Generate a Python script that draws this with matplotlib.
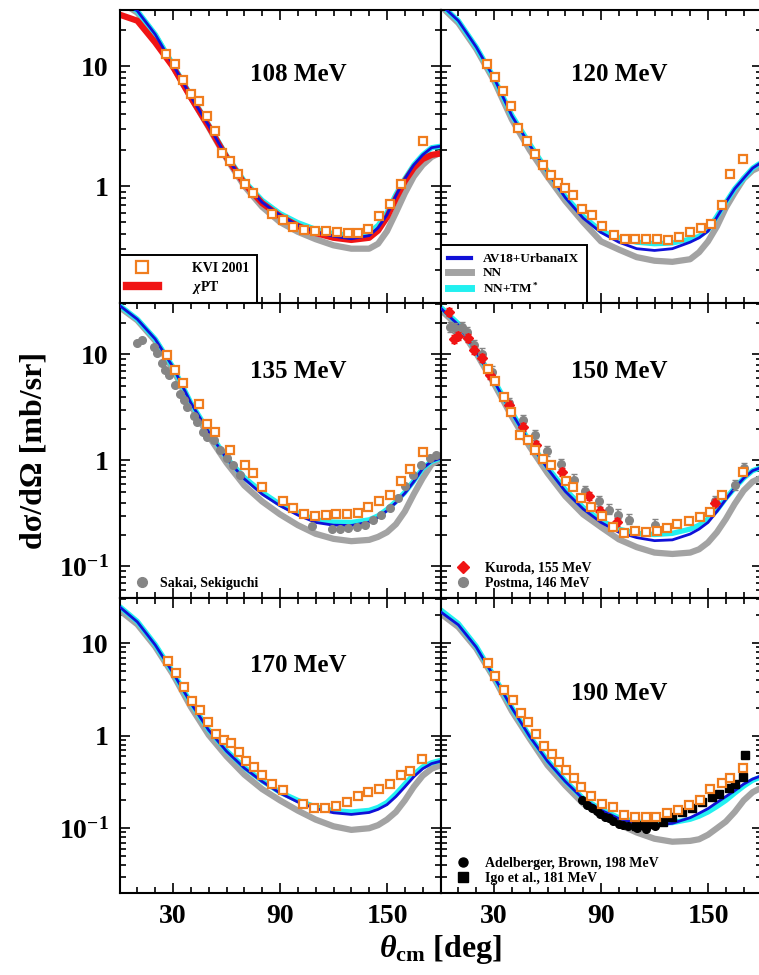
import matplotlib
matplotlib.use("Agg")
import matplotlib.pyplot as plt
from matplotlib.lines import Line2D
from matplotlib.ticker import FixedLocator, MultipleLocator, LogLocator, NullFormatter, FuncFormatter

plt.rcParams['font.family'] = ['Liberation Serif', 'DejaVu Serif']
plt.rcParams['font.weight'] = 'bold'
plt.rcParams['mathtext.fontset'] = 'custom'
plt.rcParams['mathtext.rm'] = 'Liberation Serif:bold'
plt.rcParams['mathtext.bf'] = 'Liberation Serif:bold'
plt.rcParams['mathtext.it'] = 'Liberation Serif:italic:bold'

# angle grid of the theory curves (deg)
theta = [0, 10, 20, 30, 40, 50, 60, 70, 80, 90, 100, 110, 120, 130, 140,
         145, 150, 155, 160, 165, 170, 175, 180]

# 108 MeV
av18_108 = [36, 29, 18.5, 10.3, 5.6, 3.2, 1.76, 1.06, 0.73, 0.57, 0.47, 0.413, 0.381, 0.363, 0.386,
            0.448, 0.575, 0.83, 1.15, 1.5, 1.82, 2.09, 2.15]
nn_108 = [35, 28, 18, 10, 5.5, 3.1, 1.7, 1.0, 0.67, 0.5, 0.415, 0.36, 0.32, 0.30, 0.30,
          0.33, 0.42, 0.6, 0.87, 1.2, 1.5, 1.75, 1.9]
tm_108 = [36, 29, 18.5, 10.3, 5.7, 3.25, 1.8, 1.1, 0.76, 0.59, 0.495, 0.435, 0.40, 0.39, 0.41,
          0.47, 0.6, 0.85, 1.15, 1.5, 1.82, 2.09, 2.15]
chpt_108 = [27, 24, 15.8, 9.9, 5.5, 3.15, 1.74, 1.05, 0.72, 0.56, 0.465, 0.405, 0.37, 0.355, 0.37,
            0.425, 0.55, 0.79, 1.1, 1.42, 1.68, 1.82, 1.87]

# 120 MeV
av18_120 = [33, 24, 14.5, 8.0, 3.86, 2.2, 1.31, 0.8, 0.54, 0.41, 0.34, 0.30, 0.29, 0.30, 0.34,
            0.37, 0.42, 0.55, 0.73, 0.95, 1.16, 1.41, 1.58]
nn_120 = [32, 23, 14, 7.6, 3.6, 2.0, 1.2, 0.75, 0.5, 0.345, 0.295, 0.255, 0.238, 0.233, 0.245,
          0.28, 0.345, 0.46, 0.66, 0.88, 1.15, 1.35, 1.46]
tm_120 = [33, 24, 14.5, 8.0, 3.9, 2.25, 1.33, 0.82, 0.56, 0.42, 0.37, 0.34, 0.33, 0.335, 0.36,
          0.38, 0.43, 0.56, 0.73, 0.95, 1.16, 1.41, 1.58]

# 135 MeV
av18_135 = [29, 21.5, 14, 7.6, 3.5, 1.85, 1.04, 0.67, 0.48, 0.374, 0.305, 0.26, 0.245, 0.243, 0.262,
            0.29, 0.335, 0.4, 0.49, 0.63, 0.84, 0.98, 1.05]
nn_135 = [28, 21, 13.5, 7.3, 3.3, 1.7, 0.95, 0.58, 0.41, 0.31, 0.245, 0.203, 0.182, 0.173, 0.178,
          0.19, 0.21, 0.25, 0.33, 0.48, 0.68, 0.92, 1.02]
tm_135 = [29, 21.5, 14, 7.6, 3.5, 1.87, 1.06, 0.69, 0.5, 0.385, 0.32, 0.275, 0.262, 0.26, 0.275,
          0.3, 0.345, 0.41, 0.5, 0.64, 0.84, 0.98, 1.05]

# 150 MeV
av18_150 = [27.5, 19, 10.6, 5.6, 2.8, 1.47, 0.84, 0.51, 0.348, 0.26, 0.21, 0.187, 0.175, 0.178, 0.202,
            0.225, 0.26, 0.33, 0.43, 0.55, 0.68, 0.8, 0.86]
nn_150 = [26.5, 18.5, 10.3, 5.3, 2.6, 1.35, 0.76, 0.46, 0.31, 0.235, 0.18, 0.152, 0.135, 0.131, 0.135,
          0.145, 0.168, 0.21, 0.28, 0.39, 0.52, 0.63, 0.69]
tm_150 = [28, 19.5, 10.8, 5.7, 2.85, 1.5, 0.86, 0.53, 0.36, 0.27, 0.225, 0.205, 0.2, 0.205, 0.225,
          0.245, 0.28, 0.34, 0.44, 0.55, 0.68, 0.8, 0.86]

# 170 MeV
av18_170 = [24.8, 17, 9.6, 4.8, 2.25, 1.15, 0.68, 0.447, 0.32, 0.24, 0.192, 0.163, 0.147, 0.141, 0.148,
            0.16, 0.18, 0.22, 0.28, 0.36, 0.44, 0.5, 0.53]
nn_170 = [22.8, 16, 9.2, 4.6, 2.05, 1.02, 0.6, 0.38, 0.265, 0.2, 0.155, 0.124, 0.105, 0.096, 0.1,
          0.108, 0.124, 0.15, 0.2, 0.28, 0.37, 0.44, 0.48]
tm_170 = [25, 17.2, 9.7, 4.85, 2.27, 1.16, 0.69, 0.455, 0.325, 0.245, 0.2, 0.17, 0.155, 0.15, 0.156,
          0.168, 0.19, 0.235, 0.3, 0.38, 0.46, 0.51, 0.54]

# 190 MeV
av18_190 = [21.9, 15.8, 9.1, 4.35, 2.0, 0.98, 0.53, 0.32, 0.207, 0.157, 0.127, 0.113, 0.108, 0.113, 0.13,
            0.145, 0.163, 0.19, 0.22, 0.255, 0.3, 0.34, 0.37]
nn_190 = [21, 15, 8.8, 4.2, 1.85, 0.93, 0.48, 0.29, 0.185, 0.138, 0.11, 0.09, 0.077, 0.0715, 0.073,
          0.076, 0.085, 0.1, 0.118, 0.15, 0.2, 0.245, 0.275]
tm_190 = [23, 16.3, 9.3, 4.4, 2.02, 0.99, 0.54, 0.325, 0.21, 0.16, 0.13, 0.117, 0.113, 0.115, 0.125,
          0.135, 0.15, 0.172, 0.2, 0.24, 0.285, 0.33, 0.36]

# KVI 2001 data
kvi108_th = [26.3, 30.9, 35.7, 40.1, 44.6, 49.0, 53.3, 57.6, 61.7, 66.2, 70.3, 74.8, 85.7, 91.5, 97.5,
             103.4, 109.6, 115.8, 121.7, 127.9, 133.8, 139.6, 145.6, 151.9, 158.1, 170.2]
kvi108 = [12.7, 10.5, 7.75, 5.89, 5.11, 3.83, 2.89, 1.90, 1.61, 1.26, 1.05, 0.87, 0.58, 0.52, 0.455,
          0.427, 0.419, 0.419, 0.415, 0.407, 0.407, 0.44, 0.56, 0.71, 1.04, 2.37]
kvi120_th = [26.1, 30.5, 34.9, 39.4, 43.7, 48.4, 52.9, 57.4, 61.7, 65.8, 69.9, 74.2, 79.1, 85.0, 90.8,
             97.2, 103.4, 108.9, 115.1, 121.5, 127.3, 133.5, 139.8, 145.8, 151.6, 157.8, 162.3, 169.5]
kvi120 = [10.5, 8.2, 6.2, 4.67, 3.05, 2.39, 1.86, 1.49, 1.24, 1.07, 0.96, 0.85, 0.64, 0.57, 0.46,
          0.39, 0.36, 0.36, 0.36, 0.36, 0.354, 0.378, 0.417, 0.447, 0.48, 0.70, 1.26, 1.67]
kvi135_th = [26.8, 31.3, 35.8, 44.7, 49.2, 53.7, 62.1, 70.5, 74.8, 79.8, 91.7, 97.3, 103.5, 109.6, 115.6,
             121.5, 127.5, 133.5, 139.6, 145.6, 151.9, 157.9, 163.1, 170.2]
kvi135 = [9.86, 7.18, 5.33, 3.41, 2.20, 1.86, 1.25, 0.90, 0.76, 0.565, 0.415, 0.356, 0.31, 0.297, 0.304,
          0.313, 0.315, 0.322, 0.367, 0.411, 0.475, 0.635, 0.835, 1.19]
kvi150_th = [26.4, 30.8, 35.5, 39.6, 44.3, 48.8, 52.9, 57.6, 61.9, 70.1, 74.4, 78.9, 84.5, 90.5, 96.8,
             102.8, 109.0, 115.2, 121.3, 126.9, 132.7, 139.1, 145.3, 151.2, 157.6, 169.7]
kvi150 = [7.28, 5.65, 4.0, 2.85, 1.74, 1.55, 1.25, 1.03, 0.90, 0.635, 0.557, 0.443, 0.367, 0.297, 0.236,
          0.207, 0.218, 0.212, 0.215, 0.231, 0.252, 0.271, 0.295, 0.329, 0.472, 0.776]
kvi170_th = [27.0, 31.5, 36.0, 40.6, 44.9, 49.4, 53.9, 58.7, 62.6, 66.9, 71.0, 75.3, 79.8, 85.6, 91.5,
             103.1, 109.2, 115.2, 121.4, 127.3, 133.5, 139.5, 145.4, 151.6, 157.7, 163.1, 169.8]
kvi170 = [6.41, 4.8, 3.33, 2.37, 1.88, 1.42, 1.04, 0.91, 0.83, 0.66, 0.537, 0.462, 0.376, 0.303, 0.259,
          0.181, 0.167, 0.167, 0.172, 0.19, 0.221, 0.244, 0.263, 0.30, 0.376, 0.418, 0.56]
kvi190_th = [26.5, 30.8, 35.5, 40.4, 44.9, 49.2, 53.3, 58.0, 62.3, 66.4, 70.5, 74.8, 78.9, 84.5, 90.5,
             96.5, 102.8, 108.8, 115.0, 121.1, 126.9, 132.9, 139.1, 145.3, 151.4, 157.6, 162.6, 169.7]
kvi190 = [6.05, 4.42, 3.12, 2.41, 1.74, 1.42, 1.04, 0.78, 0.634, 0.524, 0.426, 0.346, 0.276, 0.225, 0.181,
          0.168, 0.138, 0.131, 0.131, 0.131, 0.146, 0.156, 0.178, 0.2, 0.265, 0.308, 0.352, 0.447]

# other data sets
sakai_th = [9.9, 12.7, 19.2, 21.1, 23.9, 25.7, 27.6, 31.3, 34.1, 36, 37.9, 41.6, 43.5, 46.6, 49.1,
            52.8, 56.5, 60.2, 63.9, 67.7, 107.8, 118.9, 123.6, 128.3, 132.9, 137.6, 142.2, 146.9,
            151.6, 156.2, 160, 164.6, 169.3, 173.9, 177.7]
sakai = [12.9, 13.7, 11.8, 10.3, 8.3, 7.1, 6.4, 5.2, 4.2, 3.7, 3.2, 2.6, 2.33, 1.87, 1.68,
         1.56, 1.26, 1.05, 0.91, 0.73, 0.24, 0.223, 0.223, 0.228, 0.234, 0.248, 0.277, 0.308,
         0.356, 0.443, 0.569, 0.733, 0.91, 1.05, 1.13]
kuroda_th = [4.7, 7.5, 10, 15.5, 18.7, 23, 28, 38.3, 46.2, 53.3, 67.9, 83.2, 89.7, 99, 154.2]
kuroda = [25, 14, 15, 14.3, 11, 9.2, 6.4, 3.34, 2.06, 1.4, 0.78, 0.46, 0.33, 0.26, 0.4]
postma_th = [5.6, 8.4, 12.2, 14.9, 18.7, 23.4, 29, 38.3, 46.2, 52.9, 59.8, 67.7, 74.8, 81.3, 88.8,
             94.4, 99.6, 105.6, 120.2, 153.9, 165.1, 170.1]
postma = [18.2, 17.6, 18, 16.3, 12.2, 10.2, 6.9, 3.46, 2.4, 1.74, 1.22, 0.92, 0.66, 0.51, 0.41,
          0.344, 0.308, 0.277, 0.248, 0.41, 0.59, 0.85]
adel_th = [79.5, 82, 84.7, 87.5, 89.7, 92, 94.4, 97, 100, 102.5, 105, 110, 115, 120.5]
adel = [0.2, 0.18, 0.166, 0.152, 0.141, 0.133, 0.128, 0.12, 0.112, 0.108, 0.105, 0.1, 0.097, 0.105]
igo_th = [109.5, 114, 119, 124.5, 130, 135.5, 141, 146.5, 152, 156, 161.5, 165, 169.5, 170.5]
igo = [0.105, 0.108, 0.112, 0.117, 0.133, 0.15, 0.165, 0.19, 0.215, 0.235, 0.27, 0.3, 0.36, 0.62]

energies = ['108 MeV', '120 MeV', '135 MeV', '150 MeV', '170 MeV', '190 MeV']
av18_all = [av18_108, av18_120, av18_135, av18_150, av18_170, av18_190]
nn_all = [nn_108, nn_120, nn_135, nn_150, nn_170, nn_190]
tm_all = [tm_108, tm_120, tm_135, tm_150, tm_170, tm_190]
kvi_th_all = [kvi108_th, kvi120_th, kvi135_th, kvi150_th, kvi170_th, kvi190_th]
kvi_all = [kvi108, kvi120, kvi135, kvi150, kvi170, kvi190]
row_ylim = [(0.105, 29.5), (0.05, 30.4), (0.0198, 30.6)]
title_y = [0.78, 0.78, 0.768, 0.768, 0.773, 0.678]

BLUE = '#1010d8'
GRAY = '#a3a3a3'
CYAN = '#22f0f0'
RED = '#f01414'
ORANGE = '#f07d1e'

fig = plt.figure(figsize=(7.59, 9.75), dpi=100)
W, H = 759.0, 975.0
col_x = [119.5, 440.5]
row_top = [10.0, 303.3, 598.3]
row_bot = [303.3, 598.3, 893.3]
pw = 321.0


def ylabel_fmt(v, pos):
    if abs(v - 10) < 1e-6:
        return '10'
    if abs(v - 1) < 1e-6:
        return '1'
    if abs(v - 0.1) < 1e-6:
        return '$10^{-1}$'
    return ''


axes = []
for i in range(6):
    r, c = divmod(i, 2)
    ax = fig.add_axes([col_x[c] / W, 1 - row_bot[r] / H, pw / W, (row_bot[r] - row_top[r]) / H])
    axes.append(ax)
    ax.set_yscale('log')
    ax.set_xlim(0, 180)
    ax.set_ylim(*row_ylim[r])

    ax.plot(theta, nn_all[i], color=GRAY, lw=4.5, zorder=2, solid_capstyle='butt')
    ax.plot(theta, tm_all[i], color=CYAN, lw=3.8, zorder=2.2, solid_capstyle='butt')
    if i == 0:
        ax.plot(theta, chpt_108, color=RED, lw=4.5, zorder=2.4, solid_capstyle='butt')
    ax.plot(theta, av18_all[i], color=BLUE, lw=2.0, zorder=2.6)

    ax.plot(kvi_th_all[i], kvi_all[i], ls='none', marker='s', ms=6.3, mfc='white',
            mec=ORANGE, mew=1.6, zorder=6)

    ax.text(0.556, title_y[i], energies[i], transform=ax.transAxes, ha='center', va='center',
            fontsize=18, fontweight='bold')

    ax.xaxis.set_major_locator(FixedLocator([30, 90, 150]))
    ax.xaxis.set_minor_locator(MultipleLocator(10))
    ax.yaxis.set_major_locator(LogLocator(base=10, numticks=10))
    ax.yaxis.set_minor_locator(LogLocator(base=10, subs=range(2, 10), numticks=20))
    ax.yaxis.set_minor_formatter(NullFormatter())
    ax.yaxis.set_major_formatter(FuncFormatter(ylabel_fmt))
    ax.tick_params(which='both', direction='in', top=True, right=True, width=1.2)
    ax.tick_params(which='major', length=7.5, labelsize=20, pad=8)
    ax.tick_params(which='minor', length=4)
    if c == 1:
        ax.tick_params(labelleft=False)
    if r < 2:
        ax.tick_params(labelbottom=False)
    for sp in ax.spines.values():
        sp.set_linewidth(1.5)

# extra data sets
ax = axes[2]
ax.plot(sakai_th, sakai, ls='none', marker='o', ms=5.5, color='#858585', zorder=4)
ax = axes[3]
ax.errorbar(postma_th, postma, yerr=[[v * 0.1 for v in postma], [v * 0.12 for v in postma]],
            fmt='o', ms=5.5, color='#858585', ecolor='#858585', elinewidth=1.2, capsize=2.5, zorder=4)
ax.errorbar(kuroda_th, kuroda, yerr=[[v * 0.08 for v in kuroda], [v * 0.09 for v in kuroda]],
            fmt='D', ms=5, color=RED, ecolor=RED, elinewidth=1.2, capsize=2.5, zorder=4.5)
ax = axes[5]
ax.plot(adel_th, adel, ls='none', marker='o', ms=5.5, color='black', zorder=4)
ax.plot(igo_th, igo, ls='none', marker='s', ms=5.5, color='black', zorder=4)

# legends
lfont = {'size': 10, 'weight': 'bold'}
leg = axes[0].legend(
    [Line2D([], [], ls='none', marker='s', ms=8, mfc='white', mec=ORANGE, mew=1.6),
     Line2D([], [], color=RED, lw=6)],
    ['KVI 2001', r'$\chi$PT'], loc='lower left', prop=lfont, frameon=True, fancybox=False,
    edgecolor='black', framealpha=1, borderaxespad=0, handlelength=2.2, handletextpad=2.5,
    borderpad=0.55, labelspacing=0.25)
leg.get_frame().set_linewidth(1.4)

leg = axes[1].legend(
    [Line2D([], [], color=BLUE, lw=3), Line2D([], [], color=GRAY, lw=5),
     Line2D([], [], color=CYAN, lw=5)],
    ['AV18+UrbanaIX', 'NN', 'NN+TM$^*$'], loc='lower left', prop={'size': 9.5, 'weight': 'bold'},
    frameon=True, fancybox=False, edgecolor='black', framealpha=1, borderaxespad=0,
    handlelength=1.7, handletextpad=0.9, borderpad=0.6, labelspacing=0.12)
leg.get_frame().set_linewidth(1.4)

axes[2].legend([Line2D([], [], ls='none', marker='o', ms=7, color='#858585')],
               ['Sakai, Sekiguchi'], loc='lower left', prop=lfont, frameon=False,
               borderaxespad=0.2, handletextpad=0.3)
axes[3].legend([Line2D([], [], ls='none', marker='D', ms=6.5, color=RED),
                Line2D([], [], ls='none', marker='o', ms=7, color='#858585')],
               ['Kuroda, 155 MeV', 'Postma, 146 MeV'], loc='lower left', prop=lfont,
               frameon=False, borderaxespad=0.2, handletextpad=0.6, labelspacing=0.15)
axes[5].legend([Line2D([], [], ls='none', marker='o', ms=6.5, color='black'),
                Line2D([], [], ls='none', marker='s', ms=6.5, color='black')],
               ['Adelberger, Brown, 198 MeV', 'Igo et al., 181 MeV'], loc='lower left',
               prop=lfont, frameon=False, borderaxespad=0.2, handletextpad=0.6, labelspacing=0.15)

fig.text(34 / W, 1 - 450.6 / H, 'd\u03c3/d\u03a9 [mb/sr]', rotation=90, ha='center', va='center',
         fontsize=23, fontweight='bold')
fig.text(440.5 / W, 1 - 950 / H, r'$\theta_{\rm cm}$ [deg]', ha='center', va='center',
         fontsize=23, fontweight='bold')

fig.savefig('out.png', dpi=100)
